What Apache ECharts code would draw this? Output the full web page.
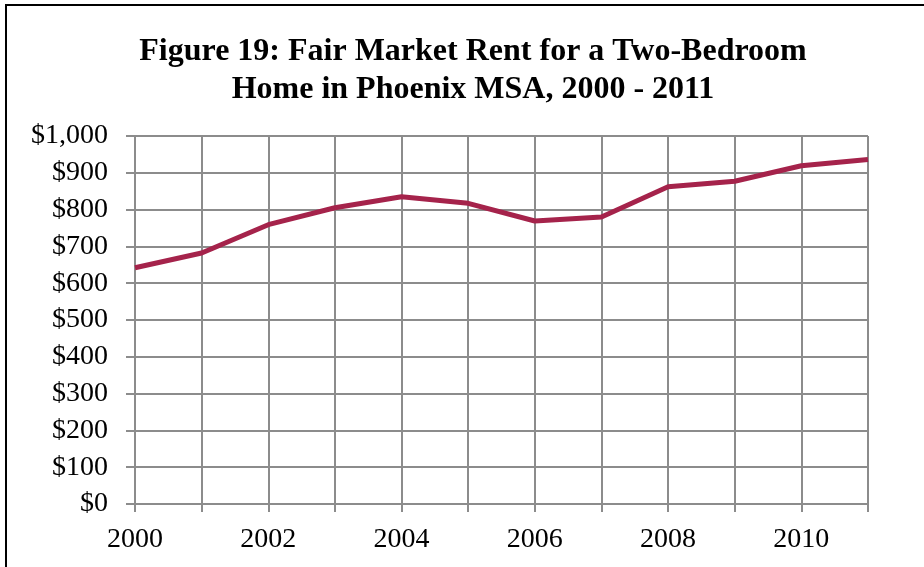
<!DOCTYPE html>
<html>
<head>
<meta charset="utf-8">
<script src="https://cdn.jsdelivr.net/npm/echarts@6/dist/echarts.min.js"></script>
<style>
html,body{margin:0;padding:0;background:#fff;}
#chart{width:924px;height:567px;}
</style>
</head>
<body>
<div id="chart"></div>
<script>
const years = ['2000','2001','2002','2003','2004','2005','2006','2007','2008','2009','2010','2011'];
const rent = [642, 682, 759, 805, 835, 817, 769, 780, 862, 877, 919, 936];
const titleText = 'Figure 19: Fair Market Rent for a Two-Bedroom\nHome in Phoenix MSA, 2000 - 2011';

const chart = echarts.init(document.getElementById('chart'), null, {renderer: 'canvas'});
chart.setOption({
  backgroundColor: '#fff',
  animation: false,
  title: {
    text: titleText,
    left: 468,
    textAlign: 'center',
    top: 28,
    textStyle: {
      fontFamily: 'Liberation Serif',
      fontWeight: 'bold',
      fontSize: 32,
      lineHeight: 38,
      color: '#000'
    }
  },
  graphic: [{
    type: 'rect',
    shape: {x: 6, y: 5, width: 1200, height: 1200},
    style: {fill: 'none', stroke: '#000', lineWidth: 2},
    silent: true
  }],
  grid: {left: 135, right: 56, top: 136, bottom: 63, containLabel: false},
  xAxis: {
    type: 'category',
    data: years,
    boundaryGap: false,
    axisLine: {lineStyle: {color: '#8c8c8c', width: 2}},
    axisTick: {show: true, interval: 0, length: 8, lineStyle: {color: '#8c8c8c', width: 2}},
    axisLabel: {interval: 1, margin: 22, fontFamily: 'Liberation Serif', fontSize: 28, color: '#000'},
    splitLine: {show: true, interval: 0, lineStyle: {color: '#8c8c8c', width: 2}}
  },
  yAxis: {
    type: 'value',
    min: 0, max: 1000, interval: 100,
    axisLine: {show: true, lineStyle: {color: '#8c8c8c', width: 2}},
    axisTick: {show: true, length: 9, lineStyle: {color: '#8c8c8c', width: 2}},
    axisLabel: {
      margin: 27,
      fontFamily: 'Liberation Serif', fontSize: 28, color: '#000',
      formatter: v => '$' + v.toLocaleString('en-US')
    },
    splitLine: {show: true, lineStyle: {color: '#8c8c8c', width: 2}}
  },
  series: [{
    type: 'line',
    data: rent,
    symbol: 'none',
    lineStyle: {color: '#A5234B', width: 5},
    itemStyle: {color: '#A5234B'}
  }]
});
</script>
</body>
</html>
